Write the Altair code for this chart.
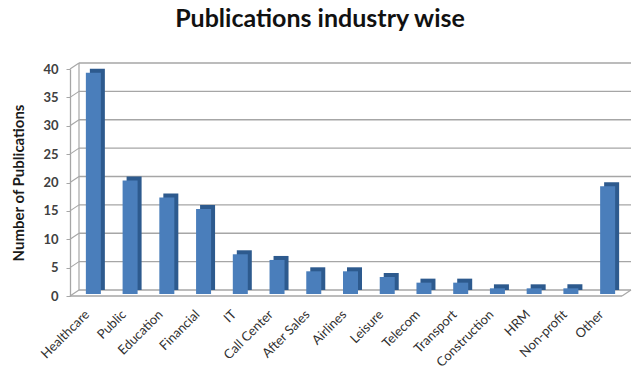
import altair as alt
import pandas as pd

categories = ["Healthcare", "Public", "Education", "Financial", "IT", "Call Center",
              "After Sales", "Airlines", "Leisure", "Telecom", "Transport",
              "Construction", "HRM", "Non-profit", "Other"]
publications = [39, 20, 17, 15, 7, 6, 4, 4, 3, 2, 2, 1, 1, 1, 19]
y_ticks = [0, 5, 10, 15, 20, 25, 30, 35, 40]

df = pd.DataFrame({"industry": categories, "n": publications})
ticks = pd.DataFrame({"v": y_ticks})
wall = pd.DataFrame({"lo": [min(y_ticks)], "hi": [max(y_ticks)]})

W, H = 552, 227
DX, DY = 9, -6
FONT = "Lato"
grid_color = "#a6a6a6"

yscale = alt.Scale(domain=[0, 40], nice=False, zero=True)
xscale = alt.Scale(domain=categories, range=[5, 556], paddingInner=0, paddingOuter=0)

y_axis = alt.Axis(values=y_ticks, grid=False, domain=True, domainColor=grid_color,
                  domainWidth=1.3, tickColor=grid_color, tickSize=4, labelPadding=8,
                  labelFont=FONT, labelFontSize=13, labelFontWeight="bold",
                  labelColor="#404040", title="Number of Publications",
                  titleFont=FONT, titleFontSize=15, titleFontWeight="bold",
                  titleColor="#1a1a1a", titleAngle=270, titleX=-52, titleY=H / 2,
                  titleAlign="center", titleBaseline="middle")
x_axis = alt.Axis(labelAngle=315, labelAlign="right", labelBaseline="middle",
                  labelPadding=16, domain=False, ticks=False, labelOffset=-6,
                  labelFont=FONT, labelFontSize=13, labelColor="#303030",
                  labelOverlap=False)

def Y(field):
    return alt.Y(field, scale=yscale, axis=y_axis, title="Number of Publications")

def X():
    return alt.X("industry:N", scale=xscale, sort=categories, axis=x_axis, title=None)

back_grid = alt.Chart(ticks).mark_rule(color=grid_color, strokeWidth=1.3, yOffset=DY).encode(
    y=Y("v:Q"), x=alt.value(DX), x2=alt.value(W + DX))

diag = alt.Chart(ticks).mark_rule(color=grid_color, strokeWidth=1.2, y2Offset=DY).encode(
    y=Y("v:Q"), y2="v:Q", x=alt.value(0), x2=alt.value(DX))

back_wall = alt.Chart(wall).mark_rule(color=grid_color, strokeWidth=1.2, yOffset=DY, y2Offset=DY).encode(
    y=Y("lo:Q"), y2="hi:Q", x=alt.value(DX))

floor_front = alt.Chart(wall).mark_rule(color=grid_color, strokeWidth=1.3).encode(
    y=Y("lo:Q"), x=alt.value(0), x2=alt.value(W))

floor_right = alt.Chart(wall).mark_rule(color=grid_color, strokeWidth=1.2, y2Offset=DY).encode(
    y=Y("lo:Q"), y2="lo:Q", x=alt.value(W), x2=alt.value(W + DX))

bars_side = alt.Chart(df).mark_bar(size=15, xOffset=4, yOffset=-6, y2Offset=-3, color="#2d5a8e").encode(
    x=X(), y=Y("n:Q"))

bars_front = alt.Chart(df).mark_bar(size=15, yOffset=-2, y2Offset=-2, color="#4a7ebb").encode(
    x=X(), y=Y("n:Q"))

chart = alt.layer(back_grid, diag, back_wall, floor_front, floor_right, bars_side, bars_front).properties(
    width=W, height=H,
    autosize=alt.AutoSizeParams(type="none"),
    padding={"left": 70, "top": 69, "right": 17, "bottom": 74},
    title=alt.TitleParams("Publications industry wise", font=FONT, fontSize=25, fontWeight="bold",
                          color="#111111", anchor="middle", dx=-26, offset=30),
    background="white",
).configure_view(stroke=None)

chart.save("out.html", embed_options={"renderer": "svg", "actions": False})
